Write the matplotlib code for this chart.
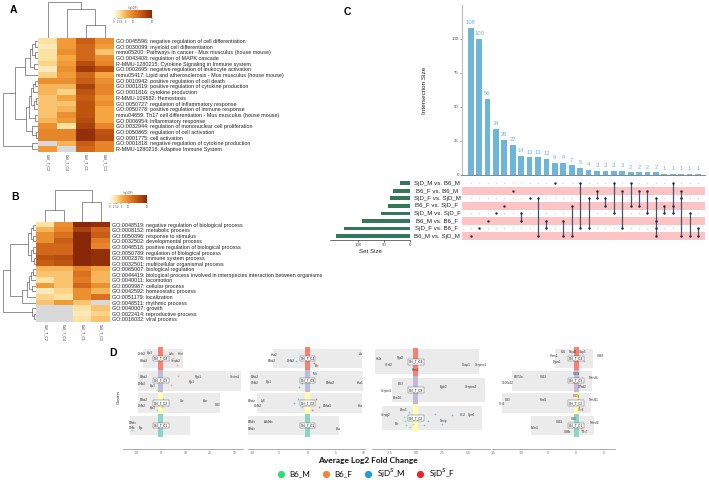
import numpy as np
import matplotlib
matplotlib.use('Agg')
import matplotlib.pyplot as plt
from matplotlib.colors import LinearSegmentedColormap, Normalize
from matplotlib.transforms import blended_transform_factory
from matplotlib.lines import Line2D

plt.rcParams['font.family'] = ['Liberation Sans', 'DejaVu Sans']

W, H = 709, 480

# ---------------- panel A: heatmap ----------------
a_terms = [
    'GO:0045596: negative regulation of cell differentiation',
    'GO:0030099: myeloid cell differentiation',
    'mmu05200: Pathways in cancer - Mus musculus (house mouse)',
    'GO:0043408: regulation of MAPK cascade',
    'R-MMU-1280215: Cytokine Signaling in Immune system',
    'GO:0002695: negative regulation of leukocyte activation',
    'mmu05417: Lipid and atherosclerosis - Mus musculus (house mouse)',
    'GO:0010942: positive regulation of cell death',
    'GO:0001819: positive regulation of cytokine production',
    'GO:0001816: cytokine production',
    'R-MMU-109582: Hemostasis',
    'GO:0050727: regulation of inflammatory response',
    'GO:0050778: positive regulation of immune response',
    'mmu04659: Th17 cell differentiation - Mus musculus (house mouse)',
    'GO:0006954: inflammatory response',
    'GO:0032944: regulation of mononuclear cell proliferation',
    'GO:0050865: regulation of cell activation',
    'GO:0001775: cell activation',
    'GO:0001818: negative regulation of cytokine production',
    'R-MMU-1280218: Adaptive Immune System',
]
a_cols = ['Cell_T_C2', 'Cell_T_C4', 'Cell_T_C1', 'Cell_T_C3']
a_vals = [
    [3, 8, 14, 9], [2, 8, 13, 8], [3, 9, 13, 5], [3, 7, 13, 9],
    [4, 8, 16, 10], [2, 9, 18, 15], [4, 8, 13, 7], [9, 9, 14, 9],
    [6, 6, 17, 10], [6, 4, 15, 10], [5, 7, 14, 8], [5, 5, 15, 9],
    [5, 6, 15, 7], [5, 9, 15, 7], [6, 8, 16, 7], [9, 3, 17, 10],
    [10, 10, 19, 15], [10, 10, 19, 16], [np.nan, 6, 14, 10], [8, np.nan, 13, 10],
]
a_row_merges = [(0, 1, 3), (2, 3, 3), (20, 21, 6), (4, 5, 4), (22, 23, 8), (24, 6, 13),
                (7, 8, 3), (26, 9, 5), (10, 11, 2.5), (28, 12, 4), (27, 29, 7), (13, 14, 3),
                (30, 31, 9), (16, 17, 2.5), (15, 33, 6), (32, 34, 12), (25, 35, 23),
                (18, 19, 6), (36, 37, 35)]
a_col_merges = [(2, 3, 13), (1, 4, 29), (0, 5, 36)]

# ---------------- panel B: heatmap ----------------
b_terms = [
    'GO:0048519: negative regulation of biological process',
    'GO:0008152: metabolic process',
    'GO:0050896: response to stimulus',
    'GO:0032502: developmental process',
    'GO:0048518: positive regulation of biological process',
    'GO:0050789: regulation of biological process',
    'GO:0002376: immune system process',
    'GO:0032501: multicellular organismal process',
    'GO:0065007: biological regulation',
    'GO:0044419: biological process involved in interspecies interaction between organisms',
    'GO:0040011: locomotion',
    'GO:0009987: cellular process',
    'GO:0042592: homeostatic process',
    'GO:0051179: localization',
    'GO:0048511: rhythmic process',
    'GO:0040007: growth',
    'GO:0022414: reproductive process',
    'GO:0016032: viral process',
]
b_cols = ['Cell_T_C2', 'Cell_T_C4', 'Cell_T_C1', 'Cell_T_C3']
b_vals = [
    [3, 9, 20, 19], [6, 10, 17, 13], [9, 12, 20, 14], [9, 14, 20, 11],
    [13, 13, 20, 10], [13, 13, 20, 19], [15, 16, 20, 19], [14, 15, 20, 19],
    [6, 6, 10, 7], [5, 5, 12, 6], [3, 5, 11, 6], [8, 5, 13, 9],
    [2, 4, 9, 6], [4, 3, 9, 12], [5, 8, 5, np.nan], [np.nan, np.nan, 3, 5],
    [np.nan, np.nan, 2, 4], [np.nan, np.nan, 3, 5],
]
b_row_merges = [(0, 1, 3), (2, 3, 3), (18, 19, 5), (4, 5, 3), (6, 7, 2), (21, 22, 5),
                (20, 23, 8), (8, 9, 3), (25, 10, 5), (11, 12, 4), (26, 27, 7), (28, 13, 9),
                (29, 14, 14), (24, 30, 26), (16, 17, 2), (15, 32, 4), (31, 33, 33)]
b_col_merges = [(0, 1, 12), (2, 3, 20), (4, 5, 32)]

cbar_ticks = [0, 2, 3, 4, 6, 10, 20]

# ---------------- panel C: upset ----------------
set_names = ['SjD_M vs. B6_M', 'B6_F vs. B6_M', 'SjD_F vs. SjD_M', 'B6_F vs. SjD_F',
             'SjD_M vs. SjD_F', 'B6_M vs. B6_F', 'SjD_F vs. B6_F', 'B6_M vs. SjD_M']
inter_sizes = [108, 100, 56, 34, 26, 22, 14, 13, 13, 12, 9, 9, 7, 5, 4,
               3, 3, 3, 3, 2, 2, 2, 2, 1, 1, 1, 1, 1]
inter_sets = [[7], [6], [5], [4], [3], [1], [4, 5], [2], [2, 7], [5, 6], [0], [5, 7],
              [3, 7], [0, 6], [2, 6], [1, 2], [2, 3], [0, 4], [1, 6], [0, 3], [1, 3],
              [1, 4], [2, 5, 6, 7], [3, 4], [0, 3, 4], [1, 2, 7], [4, 7], [6, 7]]
set_sizes = [sum(s for s, m in zip(inter_sizes, inter_sets) if i in m) for i in range(len(set_names))]

# ---------------- panel D: cluster fold change ----------------
d_clusters = ['Cell_T_C4', 'Cell_T_C3', 'Cell_T_C2', 'Cell_T_C1']
d_strip_colors = ['#FB8072', '#BEBADA', '#FFFFB3', '#8DD3C7']
d_xlims = [(-15.5, 33.5), (-10.7, 10.3), (-4.2, 7.1), (-15.3, 7.1)]
d_ticks = [[-10, 0, 10, 20, 30], [-10, -5, 0, 5, 10], [-2.5, 0.0, 2.5, 5.0], [-15, -10, -5, 0, 5]]
d_nrows = [4, 4, 3, 4]
d_boxes = [
    [(-7.3, 9.0), (-9.4, 32.7), (-9.4, 24.0), (-12.7, 11.8)],
    [(-6.3, 9.8), (-10.4, 10.0), (-9.1, 9.8), (-10.9, 5.7)],
    [(-3.9, 6.0), (-2.3, 6.6), (-3.2, 6.3)],
    [(-3.8, 3.1), (-11.6, 2.9), (-13.5, 2.7), (-8.2, 3.3)],
]
d_genes = [
    [[('Defb2', -8, 0.2), ('Lfp3', -4.5, 0.22), ('Efhd2', -7, -0.1), ('Lefe', 4.5, 0.2),
      ('Hnrl', 8, 0.2), ('Serpb2', 6, -0.1)],
     [('Efhd2', -7, 0.15), ('Defb2', -8, -0.15), ('Lfp3', -3.5, -0.22), ('Rgs1', 15, 0.15),
      ('Ifgr1', 12.5, -0.05), ('Sectm1', 30, 0.15)],
     [('Efhd2', -7, 0.15), ('Defb2', -8, -0.15), ('Lfp3', -3.5, -0.22), ('Xkr', 8.5, 0.1),
      ('Ltbr', 18, 0.1), ('Cd3', 23, -0.1)],
     [('Efhdx', -11.5, 0.12), ('Defb', -12, -0.12), ('Lfp', -8, -0.1)]],
    [[('Ifna2', -6, 0.15), ('Efhd2', -6.5, -0.1), ('Defb2', -3, -0.1), ('Bst', 1.6, -0.32), ('Jtb', 9.5, 0.2)],
     [('Efhd2', -9.5, 0.15), ('Defb2', -9.5, -0.1), ('Lfp1', -7, -0.05), ('Mnt', 1.3, 0.3),
      ('Efrhd2', 4, -0.1), ('Ifna1', 9.5, -0.1)],
     [('Efhdz', -10, 0.1), ('Ly6', -8, 0.1), ('Defb2', -9, -0.15), ('Efrha1', 3.5, -0.15), ('Ifna', 9.5, -0.15)],
     [('Efhdx', -10, 0.15), ('Ab9dx', -7, 0.15), ('Efhdx', -10, -0.15), ('Ifna', 5.5, -0.15)]],
    [[('H1fa', -3.5, 0.1), ('Ccnl2', -2.6, -0.12), ('Rgs2', -1.5, 0.12), ('Ifitm3', 0, -0.3),
      ('Dusp1', 4.8, -0.12), ('Serpine1', 6.2, -0.12)],
     [('Bcl3', -1.5, 0.2), ('Serpini1', -2.8, -0.05), ('Ifitm10', -1.8, -0.3), ('Egle2', 2.7, 0.1),
      ('Serpina3', 5.3, 0.1)],
     [('Serpg2', -2.9, 0.1), ('Ifitm3', -1.2, 0.27), ('Bst', -1.8, -0.2), ('Txnip', 2.7, -0.1),
      ('Ccl2', 4.5, 0.1), ('Sprr1', 5.3, 0.1)]],
    [[('Trem1', -4.0, 0.12), ('Trpm1', -3.5, -0.17), ('Mt1', -2.3, 0.3), ('Fxyd2', -0.6, 0.3),
      ('Gbp5', 1.2, 0.3), ('Cd68', 4.5, 0.12)],
     [('Ifi27l2a', -10.5, 0.15), ('Cd19', -6, 0.15), ('S100a12', -12.5, -0.1), ('Cd3d', 0, 0.3),
      ('Ccnd2', 1.2, -0.3), ('Tnfrsf4', 3.2, 0.12)],
     [('Cd3', -12.5, 0.15), ('Klrd1', -6, 0.15), ('Ccr2', -13.5, -0.05), ('Cd3g', 0, 0.3),
      ('Ccr4', 1.0, -0.3), ('Tnfsf11', 3.2, 0.12)],
     [('Mcm5', -7.5, -0.1), ('Cd11', -3, 0.15), ('Cd3', -0.5, 0.3), ('Cd8b', -1.5, -0.3),
      ('Ccr7', 1.6, -0.3), ('Tnfrsf4', 3.4, 0.12)]],
]
group_names = ['B6_M', 'B6_F', 'SjD$^S$_M', 'SjD$^S$_F']
group_colors = ['#2EE06E', '#F5823A', '#1F9ED9', '#E8262B']
# points: (log2FC, row index, group index)
d_points = [
    [(3, 0, 1), (5, 0, 1), (6.5, 0.3, 1), (2, 1, 1), (4, 1.2, 1), (7, 0.8, 1), (-1, 2, 0), (0.5, 2.2, 0),
     (-0.5, 1.9, 0), (1, 1.8, 0), (-12, 3.2, 0), (-1.5, 2.3, 0)],
    [(-2, 0.1, 2), (-1, 1.1, 2), (-0.5, 0.9, 2), (-1.5, 1.3, 2), (-2.5, 2, 2), (-1.8, 1.8, 2),
     (-1, 2.2, 2), (-0.6, 2.1, 2), (1, 2, 3), (1.5, 1.8, 3), (2, 2.2, 3), (0.8, 2.3, 3), (1.2, 0.2, 3)],
    [(-0.8, 2, 0), (-0.5, 1.9, 0), (-1, 2.1, 0), (-0.3, 2.2, 0), (-0.7, 1.8, 0), (-0.9, 2.25, 0),
     (-0.4, 2.05, 0), (-1.1, 1.95, 0), (-0.6, 2.3, 0), (1.2, 2.1, 2), (1.8, 1.85, 2), (2.5, 2.2, 2),
     (3.5, 1.9, 2), (0.8, 2.25, 2)],
    [(0.5, 1, 3), (0.8, 1.2, 3), (0.3, 0.9, 3), (1.0, 2, 3), (0.6, 2.2, 3), (0.4, 1.8, 3),
     (0.7, 3, 3), (1.1, 3.2, 3), (0.5, 2.9, 3), (-0.3, 1.1, 1), (1.5, 0.1, 1), (0.9, 3.1, 1)],
]
d_px = [(123, 243), (248, 365), (372, 490), (492, 615)]

cmap = LinearSegmentedColormap.from_list(
    'mscape', [(0, '#fffbe8'), (0.15, '#fde2a2'), (0.35, '#f6a640'),
               (0.55, '#e27b23'), (0.75, '#c05512'), (1.0, '#892808')])
cmap.set_bad('#D9D9D9')
norm = Normalize(0, 20)

fig = plt.figure(figsize=(W / 100, H / 100), dpi=100)


def px_axes(x0, y0, x1, y1):
    return fig.add_axes([x0 / W, 1 - y1 / H, (x1 - x0) / W, (y1 - y0) / H])


def dendro(ax, merges, n, side):
    pos = {i: float(i) for i in range(n)}
    hgt = {i: 0.0 for i in range(n)}
    for k, (a, b, h) in enumerate(merges):
        xs = [hgt[a], h, h, hgt[b]]
        ys = [pos[a], pos[a], pos[b], pos[b]]
        if side == 'left':
            ax.plot(xs, ys, color='#555555', lw=0.45)
        else:
            ax.plot(ys, xs, color='#555555', lw=0.45)
        pos[n + k] = (pos[a] + pos[b]) / 2
        hgt[n + k] = h
    top = max(m[2] for m in merges)
    if side == 'left':
        ax.set_ylim(n - 0.5, -0.5)
        ax.set_xlim(top * 1.01, 0)
    else:
        ax.set_xlim(-0.5, n - 0.5)
        ax.set_ylim(0, top * 1.01)
    ax.axis('off')


def heat_panel(box, terms, cols, vals, row_m, col_m, dtop, cbar_box):
    x0, y0, x1, y1 = box
    ax = px_axes(x0, y0, x1, y1)
    ax.imshow(np.ma.masked_invalid(np.array(vals, float)), cmap=cmap, norm=norm,
              aspect='auto', interpolation='nearest')
    ax.set_yticks(range(len(terms)))
    ax.set_yticklabels(terms, fontsize=3.85, color='#222222')
    ax.yaxis.tick_right()
    ax.set_xticks(range(len(cols)))
    ax.set_xticklabels(cols, fontsize=2.6, rotation=270, color='#333333')
    ax.tick_params(length=0, pad=1.2)
    for s in ax.spines.values():
        s.set_visible(False)
    dendro(px_axes(3, y0, x0, y1), row_m, len(terms), 'left')
    dendro(px_axes(x0, dtop, x1, y0), col_m, len(cols), 'top')
    cax = px_axes(*cbar_box)
    cax.imshow(np.linspace(0, 20, 256)[None, :], cmap=cmap, norm=norm, aspect='auto',
               extent=[0, 20, 0, 1])
    cax.set_yticks([])
    cax.set_xticks(cbar_ticks)
    cax.set_xticklabels([str(t) for t in cbar_ticks], fontsize=1.8, color='#444444')
    cax.tick_params(length=0.8, width=0.3, pad=0.5)
    cax.set_title('-log10(P)', fontsize=1.8, pad=1, color='#444444')
    for s in cax.spines.values():
        s.set_visible(False)


heat_panel((38, 38, 114, 152), a_terms, a_cols, a_vals, a_row_merges, a_col_merges, 2,
           (114, 10, 152, 18))
heat_panel((36, 222, 110, 322), b_terms, b_cols, b_vals, b_row_merges, b_col_merges, 190,
           (110, 195, 147, 203))

# ---------------- panel C ----------------
bar_blue = '#6DB6D9'
xs = np.arange(len(inter_sizes))
xlim_c = (-1.03, 27.83)
axb = px_axes(462, 5, 705, 175)
axb.bar(xs, inter_sizes, width=0.68, color=bar_blue)
for xi, v in zip(xs, inter_sizes):
    axb.text(xi, v + 2, str(v), ha='center', va='bottom', fontsize=4.2, color=bar_blue)
axb.set_xlim(*xlim_c)
axb.set_ylim(0, 125)
axb.set_xticks([])
axb.set_yticks([0, 25, 50, 75, 100])
axb.tick_params(axis='y', labelsize=3.2, labelcolor='#555555', length=1.2, width=0.4, color='#555555', pad=1)
for s in ['top', 'right']:
    axb.spines[s].set_visible(False)
axb.spines['left'].set_color('#BBBBBB')
axb.spines['left'].set_linewidth(0.8)
axb.spines['bottom'].set_color('#555555')
axb.spines['bottom'].set_linewidth(0.5)
axb.set_ylabel('Intersection Size', fontsize=4.6, labelpad=18, color='#222222')

axm = px_axes(462, 179, 705, 240)
nset = len(set_names)
for r in range(1, nset, 2):
    axm.axhspan(r - 0.5, r + 0.5, color='#FFC3C3', lw=0)
gx, gy = np.meshgrid(xs, np.arange(nset))
axm.scatter(gx.ravel(), gy.ravel(), s=1.2, color='#D6D6D6', lw=0, zorder=2)
for xi, members in zip(xs, inter_sets):
    if len(members) > 1:
        axm.plot([xi, xi], [min(members), max(members)], color='#3E5671', lw=0.9, zorder=3)
    axm.scatter([xi] * len(members), members, s=3, color='#1A2C44', lw=0, zorder=4)
axm.set_xlim(*xlim_c)
axm.set_ylim(nset - 0.47, -0.57)
axm.axis('off')
tr = blended_transform_factory(axm.transAxes, axm.transData)
for r, name in enumerate(set_names):
    axm.text(-0.103, r, name, transform=tr, ha='center', va='center', fontsize=4.4, color='#222222')

axs = px_axes(330, 179, 410, 240)
axs.barh(np.arange(nset), set_sizes, height=0.5, color='#35775A')
axs.set_ylim(nset - 0.47, -0.57)
axs.set_xlim(153.8, 0)
axs.set_yticks([])
axs.set_xticks([0, 50, 100])
axs.tick_params(axis='x', labelsize=3.2, labelcolor='#555555', length=1.2, width=0.4, pad=1)
for s in ['top', 'right', 'left']:
    axs.spines[s].set_visible(False)
axs.spines['bottom'].set_linewidth(0.4)
axs.set_xlabel('Set Size', fontsize=4.4, labelpad=1.5, color='#222222')

# ---------------- panel D ----------------
for k in range(4):
    ax = px_axes(d_px[k][0], 345, d_px[k][1], 449)
    n = d_nrows[k]
    rows = np.arange(n)
    lo, hi = d_xlims[k]
    ppu = (d_px[k][1] - d_px[k][0]) / (hi - lo)
    for r in rows:
        left, right = d_boxes[k][r]
        ax.barh(r, right - left, left=left, height=0.88, color='#EBEBEB', zorder=1)
        sw = 5 / ppu
        ax.barh(r, sw, left=-sw / 2, height=1.0, color=d_strip_colors[r], zorder=2)
        for g, gxv, dy in d_genes[k][r]:
            ax.text(gxv, r - dy, g, fontsize=2.2, ha='center', va='center', color='#333333', zorder=5)
        ax.text(0, r, d_clusters[r], fontsize=2.2, ha='center', va='center', zorder=6,
                bbox=dict(boxstyle='square,pad=0.25', fc='white', ec='#555555', lw=0.3))
    for px_, py_, gi in d_points[k]:
        ax.scatter(px_, py_, s=1.5, color=group_colors[gi], alpha=0.6, lw=0, zorder=3)
    ax.set_xlim(lo, hi)
    ax.set_ylim(n - 0.5 + (0.56 if n == 4 else 0.6), -0.5 - 0.1)
    ax.set_yticks([])
    ax.set_xticks(d_ticks[k])
    ax.set_xticklabels([str(t) for t in d_ticks[k]])
    ax.tick_params(axis='x', labelsize=2.4, labelcolor='#666666', length=1, width=0.3, color='#888888', pad=0.8)
    for s in ['top', 'right', 'left']:
        ax.spines[s].set_visible(False)
    ax.spines['bottom'].set_color('#888888')
    ax.spines['bottom'].set_linewidth(0.5)
    if k == 0:
        ax.set_ylabel('Clusters', fontsize=2.8, labelpad=1.5, color='#333333')

fig.text(368 / W, 1 - 461 / H, 'Average Log2 Fold Change', fontsize=6, fontweight='bold',
         family=['Lato', 'DejaVu Sans'], ha='center', va='center', color='#111111')
handles = [Line2D([], [], marker='o', ls='', ms=4.2, color=c) for c in group_colors]
fig.legend(handles, group_names, loc='center', bbox_to_anchor=(364 / W, 1 - 473 / H), ncol=4,
           frameon=False, handletextpad=0.1, columnspacing=0.9,
           prop={'family': ['Lato', 'DejaVu Sans'], 'size': 5.8})

for lab, x, y in [('A', 13, 10), ('B', 15, 197), ('C', 347, 12), ('D', 113, 353)]:
    fig.text(x / W, 1 - y / H, lab, fontsize=7.5, fontweight='bold', ha='center', va='center')

fig.savefig('out.png', dpi=100)
